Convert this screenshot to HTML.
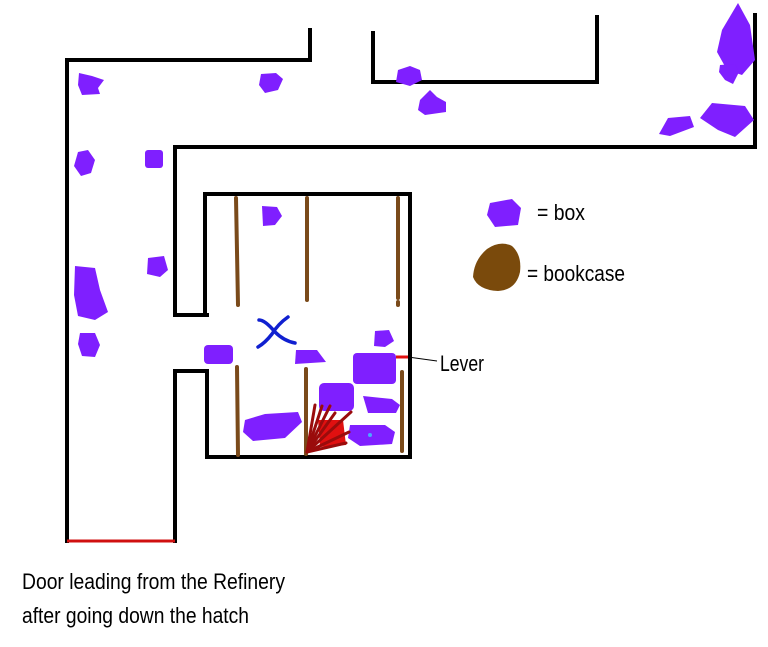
<!DOCTYPE html>
<html><head><style>
body{margin:0;background:#fff;}
svg{display:block}
text{font-family:"Liberation Sans",sans-serif;fill:#000}
</style></head><body>
<svg width="768" height="647" viewBox="0 0 768 647" xmlns="http://www.w3.org/2000/svg">
<g stroke="#000" stroke-width="4" fill="none" stroke-linecap="square">
<polyline points="310,30 310,60 67,60 67,541"/>
<polyline points="373,33 373,82 597,82 597,17"/>
<polyline points="755,15 755,147 175,147 175,315 207,315"/>
<polyline points="175,541 175,371 207,371 207,457 410,457 410,194 205,194 205,315"/>
</g>
<line x1="67" y1="541" x2="175" y2="541" stroke="#d01010" stroke-width="3"/>
<g stroke="#7a4a1a" stroke-width="4" stroke-linecap="round">
<line x1="236" y1="198" x2="238" y2="305"/>
<line x1="307" y1="198" x2="307" y2="300"/>
<line x1="398" y1="198" x2="398" y2="298"/>
<line x1="398" y1="302" x2="398" y2="305"/>
<line x1="237" y1="367" x2="238" y2="455"/>
<line x1="306" y1="369" x2="306" y2="454"/>
<line x1="402" y1="372" x2="402" y2="451"/>
</g>
<g fill="#7f1fff">
<path d="M79,73 L92,76 L104,80 L98,88 L100,94 L82,95 L78,85 Z"/>
<path d="M261,74 L276,73 L283,79 L278,90 L265,93 L259,85 Z"/>
<path d="M398,70 L410,66 L420,70 L422,80 L410,86 L396,82 Z"/>
<path d="M420,100 L430,90 L437,97 L446,102 L446,112 L425,115 L418,110 Z"/>
<path d="M738,3 L750,25 L755,60 L742,75 L727,70 L717,52 L722,30 Z"/>
<path d="M720,65 L735,64 L739,72 L733,84 L725,80 L719,72 Z"/>
<path d="M712,103 L745,106 L754,120 L735,137 L718,130 L700,118 Z"/>
<path d="M668,118 L690,116 L694,127 L670,136 L659,134 Z"/>
<path d="M78,152 L88,150 L95,160 L91,173 L81,176 L74,166 Z"/>
<rect x="145" y="150" width="18" height="18" rx="3"/>
<path d="M148,258 L164,256 L168,270 L160,277 L147,274 Z"/>
<path d="M75,266 L95,268 L100,290 L108,312 L95,320 L78,316 L74,295 Z"/>
<path d="M80,333 L95,333 L100,345 L95,357 L82,356 L78,344 Z"/>
<path d="M262,206 L277,207 L282,216 L275,225 L263,226 Z"/>
<rect x="204" y="345" width="29" height="19" rx="4"/>
<path d="M296,350 L317,350 L326,362 L295,364 Z"/>
<path d="M375,331 L389,330 L394,341 L385,347 L374,346 Z"/>
<rect x="353" y="353" width="43" height="31" rx="4"/>
<rect x="319" y="383" width="35" height="28" rx="5"/>
<path d="M363,396 L392,399 L400,405 L396,413 L368,413 Z"/>
<path d="M245,420 L265,414 L298,412 L302,422 L285,438 L253,441 L243,432 Z"/>
<path d="M350,425 L385,425 L395,432 L392,444 L360,446 L348,438 Z"/>
<path d="M490,203 L512,199 L521,208 L518,225 L495,227 L487,215 Z"/>
</g>
<circle cx="370" cy="435" r="2" fill="#4aa8ff"/>
<path d="M487,249 Q500,240 512,246 Q522,255 520,272 Q516,290 498,291 Q478,290 473,277 Q474,260 487,249 Z" fill="#7a4a0c"/>
<polygon points="318,420 343,420 346,445 320,447" fill="#e01010"/>
<g stroke="#9a0c0c" stroke-width="3" stroke-linecap="round">
<line x1="307" y1="452" x2="315" y2="405"/>
<line x1="307" y1="452" x2="322" y2="406"/>
<line x1="307" y1="452" x2="330" y2="406"/>
<line x1="307" y1="452" x2="335" y2="413"/>
<line x1="307" y1="452" x2="351" y2="412"/>
<line x1="307" y1="452" x2="349" y2="432"/>
<line x1="307" y1="452" x2="346" y2="443"/>
</g>
<g stroke="#1020d0" stroke-width="3.5" stroke-linecap="round" fill="none">
<path d="M259,320 Q265,320 275,332 Q284,341 295,343"/>
<path d="M288,317 Q278,324 272,334 Q265,343 258,347"/>
</g>
<line x1="396" y1="357" x2="408" y2="357" stroke="#e01010" stroke-width="3"/>
<line x1="408" y1="357" x2="437" y2="361" stroke="#000" stroke-width="1"/>
<text x="537" y="220" font-size="22" textLength="48" lengthAdjust="spacingAndGlyphs">= box</text>
<text x="527" y="281" font-size="22" textLength="98" lengthAdjust="spacingAndGlyphs">= bookcase</text>
<text x="440" y="371" font-size="22" textLength="44" lengthAdjust="spacingAndGlyphs">Lever</text>
<text x="22" y="589" font-size="22" textLength="263" lengthAdjust="spacingAndGlyphs">Door leading from the Refinery</text>
<text x="22" y="623" font-size="22" textLength="227" lengthAdjust="spacingAndGlyphs">after going down the hatch</text>
</svg>
</body></html>
